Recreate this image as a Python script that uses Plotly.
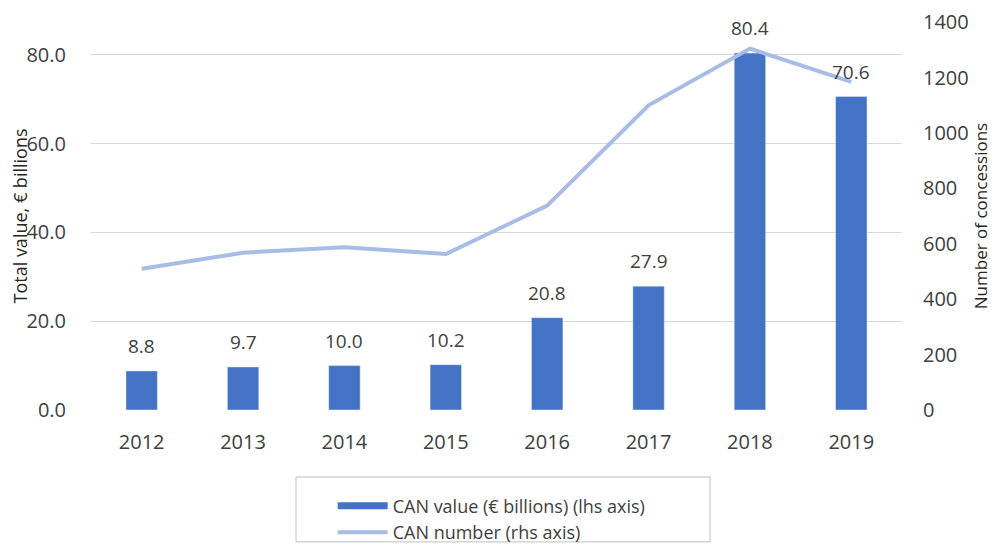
import plotly.graph_objects as go

years = ["2012", "2013", "2014", "2015", "2016", "2017", "2018", "2019"]
can_value = [8.8, 9.7, 10.0, 10.2, 20.8, 27.9, 80.4, 70.6]
can_number = [510, 568, 588, 563, 738, 1100, 1305, 1185]
left_ticks = [0, 20, 40, 60, 80]
right_ticks = [0, 200, 400, 600, 800, 1000, 1200, 1400]

font_family = "Open Sans, Liberation Sans, sans-serif"
txt = "#404040"
clear = "rgba(0,0,0,0)"
bar_color = "#4472C4"
line_color = "#A7BDE6"

fig = go.Figure()
fig.add_trace(go.Bar(
    x=years, y=can_value, name="CAN value (€ billions) (lhs axis)",
    marker_color=bar_color, width=0.31, showlegend=False, legendgroup="bar",
))
# legend entry for the bars (wide rectangle swatch as in the reference)
fig.add_trace(go.Scatter(
    x=[None], y=[None], name="CAN value (€ billions) (lhs axis)", legendgroup="bar",
    mode="lines", line=dict(color=bar_color, width=7),
))
fig.add_trace(go.Scatter(
    x=years, y=can_number, name="CAN number (rhs axis)", yaxis="y2",
    mode="lines", line=dict(color=line_color, width=4),
))

annotations = [
    dict(x=i, y=v, xref="x", yref="y", text=f"{v:.1f}", showarrow=False,
         yanchor="bottom", yshift=10, font=dict(size=19, color=txt))
    for i, v in enumerate(can_value)
]

# the page body adds an 8px offset, so the figure is 8px smaller and margins shifted
fig.update_layout(
    width=990, height=537,
    margin=dict(l=83, r=96, t=14, b=135, autoexpand=False),
    paper_bgcolor="white", plot_bgcolor="white",
    font=dict(family=font_family, color=txt, size=18),
    annotations=annotations,
    shapes=[dict(type="rect", xref="paper", yref="paper",
                 x0=0.2528, x1=0.7633, y0=-0.340, y1=-0.1727,
                 line=dict(color="#bfbfbf", width=1), fillcolor=clear, layer="below")],
    xaxis=dict(type="category", range=[-0.5, 7.5], showline=False,
               ticks="outside", ticklen=14, tickcolor=clear,
               tickfont=dict(size=20, color=txt)),
    yaxis=dict(range=[0, 87.4], tickvals=left_ticks,
               ticktext=[f"{v:.1f}" for v in left_ticks],
               showgrid=True, gridcolor="#d9d9d9", gridwidth=1,
               zeroline=False, showline=False,
               ticks="outside", ticklen=20, tickcolor=clear,
               tickfont=dict(size=20, color=txt),
               title=dict(text="Total value, € billions", font=dict(size=18, color="#262626"), standoff=0)),
    yaxis2=dict(overlaying="y", side="right", range=[0, 1401], tickvals=right_ticks,
                showgrid=False, zeroline=False, showline=False,
                ticks="outside", ticklen=16, tickcolor=clear,
                ticklabeloverflow="allow",
                tickfont=dict(size=20, color=txt),
                title=dict(text="Number of concessions", font=dict(size=17, color="#262626"), standoff=0)),
    legend=dict(orientation="v", x=0.298, xanchor="left", y=-0.2, yanchor="top",
                borderwidth=0, bgcolor=clear,
                font=dict(size=18, color=txt), itemwidth=50, tracegroupgap=0),
    showlegend=True,
)

fig.write_html("out.html")
